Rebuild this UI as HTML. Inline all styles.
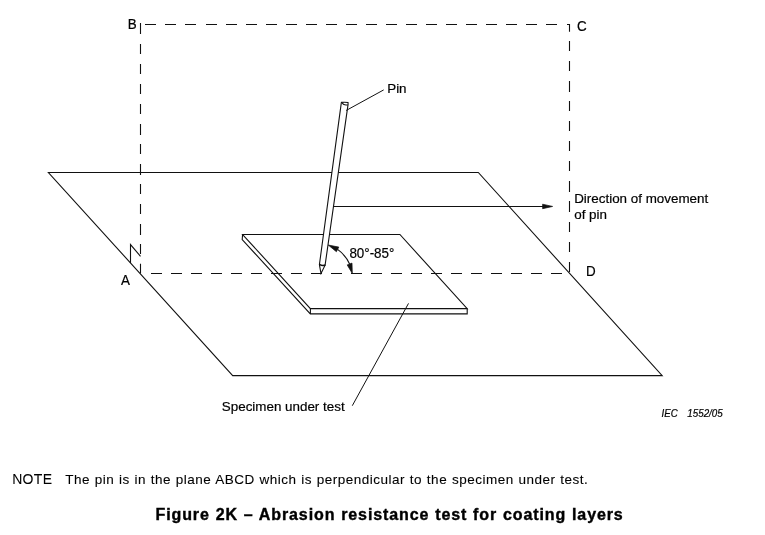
<!DOCTYPE html>
<html><head><meta charset="utf-8"><style>
html,body{margin:0;padding:0;background:#fff;width:765px;height:535px;overflow:hidden}
svg{position:absolute;left:0;top:0;will-change:transform}
.t{font-family:"Liberation Sans",sans-serif;fill:#000;stroke:#000;stroke-width:0.2px}
</style></head><body>
<svg width="765" height="535" viewBox="0 0 765 535">
<g fill="none" stroke="#111" stroke-width="1.1" stroke-linejoin="miter">
<!-- big plane -->
<path d="M48.4,172.5H478.3L662.2,375.6H232.7Z"/>
<!-- dashed ABCD -->
<path d="M145,24.5H156M165,24.5H176M185,24.5H196M206,24.5H217M226,24.5H237M246,24.5H257M266,24.5H277M286,24.5H297M306,24.5H317M326,24.5H337M346,24.5H357M366,24.5H377M386,24.5H397M406,24.5H417M426,24.5H437M446,24.5H457M466,24.5H477M486,24.5H497M506,24.5H517M526,24.5H537M546,24.5H557M567,24.5H569.5V31.8M140.5,23V34M140.5,44V54M140.5,64V74M140.5,84V94M140.5,104V114M140.5,124V135M140.5,144V154M140.5,164V175M140.5,184V194M140.5,204V214M140.5,224V235M140.5,244V254M140.5,263.8V273.5M569.5,41V51M569.5,61V71M569.5,81V92M569.5,101V111M569.5,121V131M569.5,141V151M569.5,161V171M569.5,181V192M569.5,201V212M569.5,222V232M569.5,242V252M569.5,262V272M151,273.5H162M171,273.5H182M191,273.5H202M211,273.5H222M231,273.5H242M251,273.5H262M271,273.5H282M291,273.5H302M311,273.5H322M331,273.5H342M351,273.5H362M371,273.5H382M391,273.5H402M411,273.5H422M431,273.5H442M451,273.5H462M471,273.5H482M491,273.5H502M511,273.5H522M531,273.5H542M551,273.5H562"/>
<!-- right angle mark -->
<path d="M130.5,263V244.6L140.5,256.3"/>
<!-- specimen -->
<path d="M242.6,234.5H399.9L467.2,308.6H310.4Z"/>
<path d="M242.6,234.5L242.2,239.5L310.3,313.9H467.2V308.6M310.4,308.6V313.9"/>
<!-- pin -->
<path fill="#fff" d="M341.2,103.6L319.4,264.7L321,273.5L325.1,265.2L348.1,104.2L348,102.5Q345,102 341.4,102.4Z"/>
<path d="M342.2,103.2Q344,105.6 347.7,104.8" stroke-width="1.2"/>
<path d="M319.5,264.4Q322.3,266.2 325.4,265" stroke-width="1.4"/>
<!-- direction arrow -->
<path d="M333.4,206.45H543"/>
<!-- angle arc -->
<path d="M337.6,249.4A36.5,36.5 0 0 1 349.6,264"/>
<!-- leaders -->
<path d="M346.1,110.5L383.7,89.9M408.5,303.4L352.3,405.7" stroke-width="1"/>
</g>
<g fill="#111" stroke="#111" stroke-width="0.7" stroke-linejoin="round">
<path d="M542.6,204.2L552.6,206.45L542.6,208.7Z"/>
<path d="M328.2,245L336.4,251.7L338.8,247.1Z"/>
<path d="M352.3,273.5L347.2,264.9L352,263.1Z"/>
</g>
<g class="t" font-size="13.4">
<text transform="translate(127.8,28.8) scale(1,1.05)">B</text>
<text transform="translate(577,30.9) scale(1,1.05)">C</text>
<text transform="translate(121.1,284.8) scale(1,1.05)">A</text>
<text transform="translate(586,275.8) scale(1,1.05)">D</text>
<text transform="translate(387.2,92.8)">Pin</text>
<text transform="translate(574.2,203)">Direction of movement</text>
<text transform="translate(574.2,218.6)">of pin</text>
<text transform="translate(349.4,257.8) scale(1,1.05)">80°-85°</text>
<text transform="translate(221.8,410.7)">Specimen under test</text>
</g>
<text class="t" transform="translate(661.5,416.9) scale(1,1.1)" font-size="9.7" font-style="italic">IEC</text>
<text class="t" transform="translate(687.3,416.9) scale(1,1.1)" font-size="9.8" font-style="italic">1552/05</text>
<text class="t" x="12.2" y="484.3" font-size="14" letter-spacing="0.3" style="stroke-width:0.05px">NOTE</text>
<text class="t" x="65.2" y="484.2" font-size="13.5" letter-spacing="0.5" word-spacing="0.5" style="stroke-width:0.1px">The pin is in the plane ABCD which is perpendicular to the specimen under test.</text>
<text class="t" x="155.5" y="519.6" font-size="16" font-weight="bold" letter-spacing="0.9" word-spacing="0.5" style="stroke-width:0.4px">Figure 2K – Abrasion resistance test for coating layers</text>
</svg>
</body></html>
